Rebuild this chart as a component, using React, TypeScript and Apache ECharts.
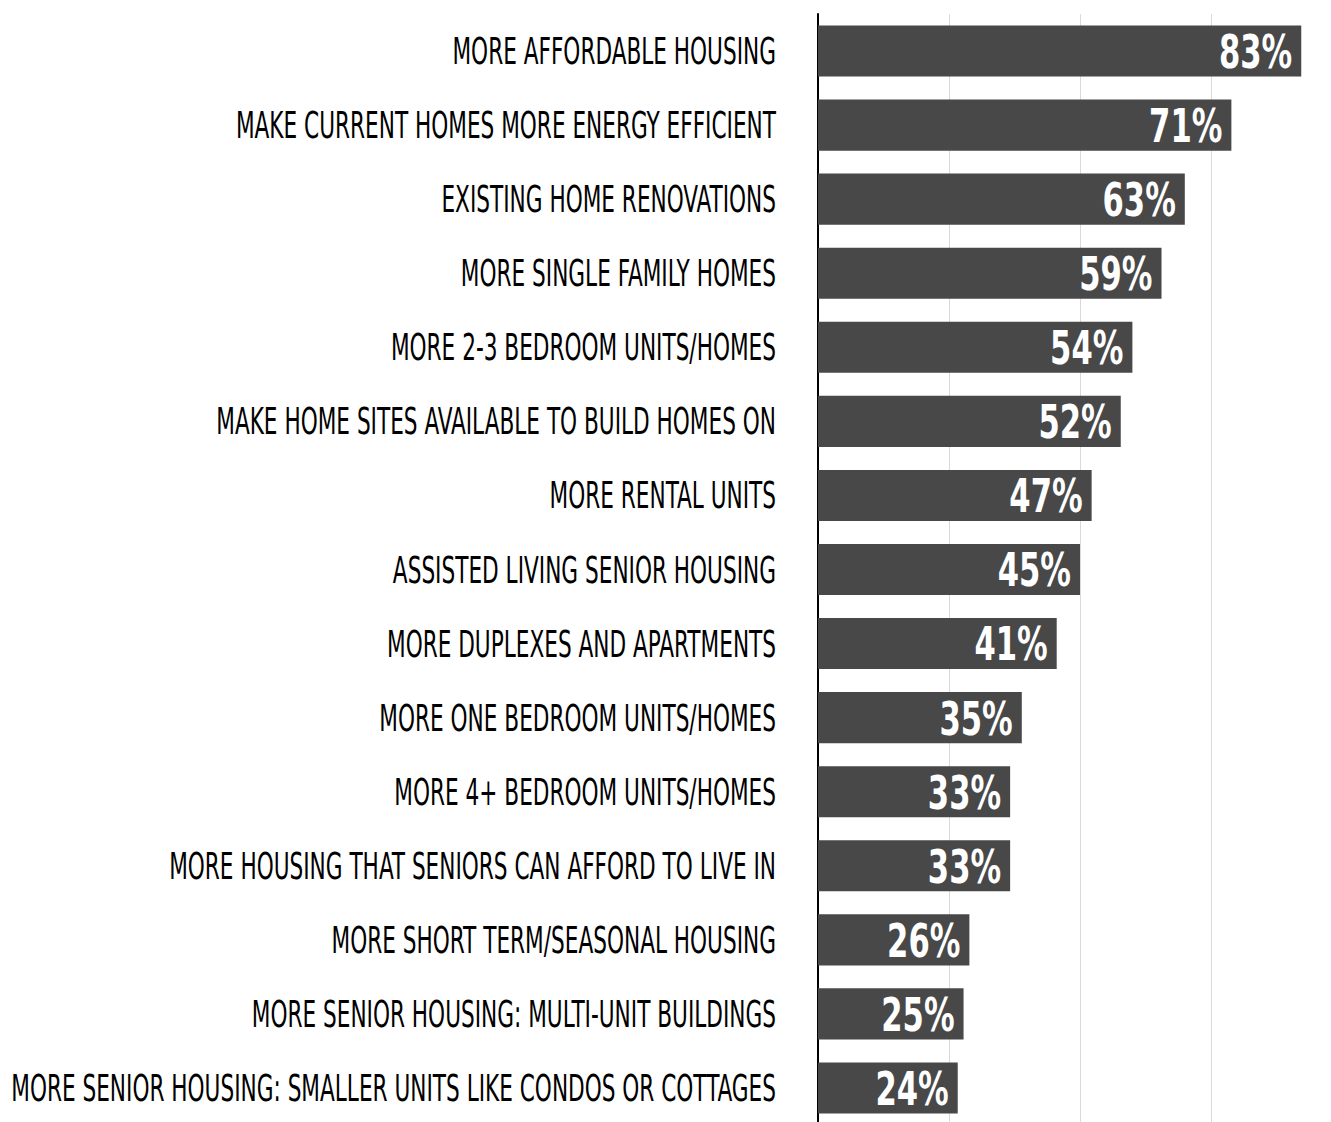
import React, { useEffect, useRef } from "react";
import * as echarts from "echarts";

const categories = [
  "More affordable housing",
  "Make current homes more energy efficient",
  "Existing home renovations",
  "More single family homes",
  "More 2-3 bedroom units/homes",
  "Make home sites available to build homes on",
  "More rental units",
  "Assisted living senior housing",
  "More duplexes and apartments",
  "More one bedroom units/homes",
  "More 4+ bedroom units/homes",
  "More housing that seniors can afford to live in",
  "More short term/seasonal housing",
  "More senior housing: multi-unit buildings",
  "More senior housing: smaller units like condos or cottages",
];
const values = [83, 71, 63, 59, 54, 52, 47, 45, 41, 35, 33, 33, 26, 25, 24];
const axisMin = 0;
const axisMax = 90;
const axisInterval = 22.5;

const FONT = "'DejaVu Sans Condensed', 'DejaVu Sans', sans-serif";

export default function App() {
  const ref = useRef<HTMLDivElement>(null);
  useEffect(() => {
    document.body.style.margin = "0";
    const chart = echarts.init(ref.current!, null, { renderer: "svg" });
    chart.setOption({
      animation: false,
      grid: { left: 818, top: 14, width: 524, height: 1111, outerBoundsMode: "none" },
      xAxis: {
        type: "value",
        min: axisMin,
        max: axisMax,
        interval: axisInterval,
        axisLabel: { show: false },
        axisLine: { show: false },
        axisTick: { show: false },
        splitLine: { lineStyle: { color: "#d9d9d9", width: 1 } },
      },
      yAxis: {
        type: "category",
        inverse: true,
        data: categories,
        axisLine: { show: true, lineStyle: { color: "#000", width: 2 } },
        axisTick: { show: false },
        axisLabel: { show: false },
      },
      series: [
        {
          type: "bar",
          data: values,
          barCategoryGap: "31%",
          itemStyle: { color: "#484848" },
        },
        {
          type: "custom",
          coordinateSystem: "cartesian2d",
          clip: false,
          z: 5,
          data: values.map((v, i) => [v, i]),
          renderItem: (params: any, api: any) => {
            const v = api.value(0);
            const i = api.value(1);
            const start = api.coord([0, i]);
            const end = api.coord([v, i]);
            return {
              type: "group",
              children: [
                {
                  type: "text",
                  x: start[0] - 42,
                  y: start[1],
                  scaleX: 0.65,
                  style: {
                    text: categories[params.dataIndex],
                    textAlign: "right",
                    textVerticalAlign: "middle",
                    fontSize: 37,
                    fontFamily: FONT,
                    fill: "#000",
                  },
                },
                {
                  type: "text",
                  x: end[0] - 9,
                  y: end[1] + 1,
                  scaleX: 0.74,
                  style: {
                    text: v + "%",
                    textAlign: "right",
                    textVerticalAlign: "middle",
                    fontSize: 46,
                    fontWeight: "bold",
                    fontFamily: FONT,
                    fill: "#fff",
                  },
                },
              ],
            };
          },
        },
      ],
    });
    return () => chart.dispose();
  }, []);
  return (
    <>
      <style>{`text { text-transform: uppercase; }`}</style>
      <div ref={ref} style={{ width: 1331, height: 1122 }} />
    </>
  );
}
